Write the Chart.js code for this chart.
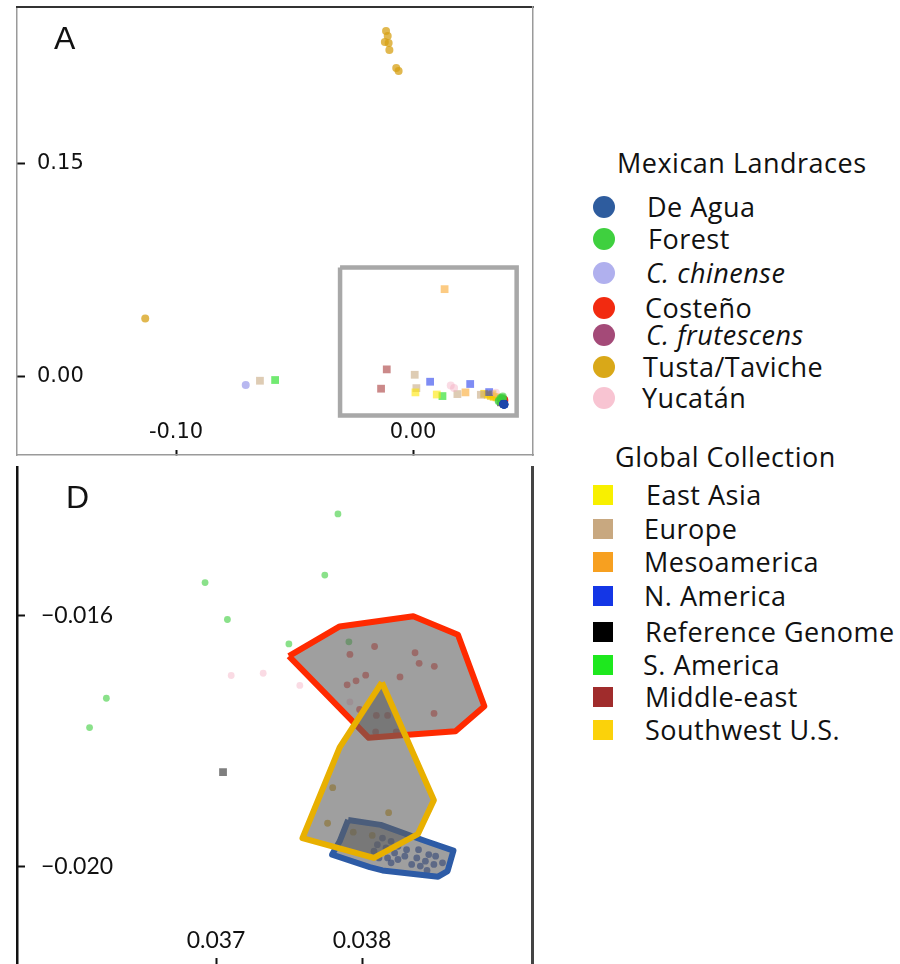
<!DOCTYPE html>
<html><head><meta charset="utf-8">
<script src="https://cdn.jsdelivr.net/npm/chart.js@4.4.1/dist/chart.umd.min.js"></script>
<style>
html,body{margin:0;padding:0;background:#fff;overflow:hidden;width:900px;height:964px;position:relative;}
#wrapA{position:absolute;left:0;top:0;width:560px;height:462px;}
#wrapD{position:absolute;left:0;top:462px;width:560px;height:510px;}
.panel{position:absolute;font-family:"Liberation Sans",Arial,sans-serif;font-size:32px;color:#111;line-height:40px;height:40px;}
.lt{position:absolute;font-family:"Open Sans",sans-serif;font-size:27px;letter-spacing:0.5px;color:#111;line-height:40px;height:40px;white-space:nowrap;}
.mk{position:absolute;}
</style></head>
<body>
<div id="wrapA"><canvas id="chartA"></canvas></div>
<div id="wrapD"><canvas id="chartD"></canvas></div>
<div class="panel" style="left:54px;top:18px;">A</div>
<div class="panel" style="left:66px;top:477px;">D</div>
<div id="legend"></div>
<script>
// ---------------- DATA ----------------
// Mexican landraces (circles)
const deAgua = [[0.038140,-0.019553],[0.038199,-0.019605],[0.038105,-0.019658],[0.038164,-0.019711],[0.038246,-0.019684],[0.038082,-0.019763],[0.038223,-0.019790],[0.038305,-0.019737],[0.038387,-0.019737],[0.038457,-0.019816],[0.038375,-0.019869],[0.038434,-0.019921],[0.038504,-0.019842],[0.038340,-0.019974],[0.038246,-0.019895],[0.038175,-0.019869],[0.038399,-0.020000],[0.038445,-0.020069],[0.038551,-0.019948],[0.038116,-0.019869],[0.038293,-0.019842],[0.038492,-0.019974],[0.038199,-0.019948]];
const forest = [[0.037835,-0.014378],[0.036925,-0.015473],[0.037745,-0.015353],[0.037078,-0.016063],[0.037499,-0.016452],[0.037910,-0.016420],[0.036249,-0.017320],[0.036134,-0.017789]];
const chinense = [[-0.0706,-0.0063]];
const costeno = [[0.037917,-0.016621],[0.038086,-0.016494],[0.038363,-0.016594],[0.038391,-0.016763],[0.038495,-0.016810],[0.037959,-0.017042],[0.038025,-0.016952],[0.037898,-0.017105],[0.038260,-0.016979],[0.037983,-0.017500],[0.038098,-0.017595],[0.038175,-0.017595],[0.038493,-0.017563],[0.038093,-0.017857],[0.038234,-0.017857]];
const frutescens = [];
const tusta = [[-0.0114,0.2430],[-0.0107,0.2394],[-0.0119,0.2352],[-0.0103,0.2345],[-0.0100,0.2296],[-0.0071,0.2169],[-0.0061,0.2148],[-0.1130,0.0406],[0.037799,-0.018748],[0.038182,-0.019147],[0.037764,-0.019316],[0.037940,-0.019458],[0.038070,-0.019510]];
const yucatan = [[0.037104,-0.016957],[0.037323,-0.016921],[0.037574,-0.017115],[0.037917,-0.017379],[0.0159,-0.0066],[0.0173,-0.0085],[0.0349,-0.0117]];
// Global collection (squares)
const eastAsia = [[0.0010,-0.0115],[0.0100,-0.0130]];
const europe = [[-0.0646,-0.0033],[0.0007,0.0009],[0.0014,-0.0085],[0.0187,-0.0127],[0.0286,-0.0132]];
const mesoamerica = [[0.0133,0.0612],[0.0221,-0.0115]];
const nAmerica = [[0.0072,-0.0040],[0.0241,-0.0056],[0.0321,-0.0113]];
const refGenome = [[0.037048,-0.018500]];
const sAmerica = [[-0.0582,-0.0028],[0.0124,-0.0141]];
const middleEast = [[-0.0111,0.0047],[-0.0135,-0.0089]];
const southwestUS = [[0.0300,-0.0125],[0.0315,-0.0132],[0.0328,-0.0140],[0.0340,-0.0146],[0.0352,-0.0150],[0.0335,-0.0128]];
// Hulls drawn in panel D and the zoom box of panel A
const costenoHull = [[0.037499,-0.016647],[0.037847,-0.016174],[0.038351,-0.016010],[0.038657,-0.016305],[0.038838,-0.017447],[0.038640,-0.017848],[0.038269,-0.017911],[0.038046,-0.017952],[0.037499,-0.016647]];
const tustaHull = [[0.038136,-0.017068],[0.038492,-0.018947],[0.038382,-0.019490],[0.038081,-0.019869],[0.037592,-0.019553],[0.037847,-0.018105],[0.038136,-0.017068]];
const deAguaHull = [[0.037905,-0.019263],[0.038128,-0.019342],[0.038429,-0.019595],[0.038626,-0.019753],[0.038586,-0.020079],[0.038521,-0.020169],[0.038140,-0.020069],[0.038053,-0.020016],[0.037795,-0.019816],[0.037847,-0.019605],[0.037905,-0.019263]];
const zoomBox = [[-0.0308,0.0764],[0.0437,0.0764],[0.0437,-0.0278],[-0.0308,-0.0278],[-0.0308,0.0764]];
// Tick labels
const aXTicks = [-0.10, 0.00];
const aYTicks = [0.00, 0.15];
const dXTicks = [0.037, 0.038];
const dYTicks = [-0.020, -0.016];
// Legend categories
const mexicanNames = ["De Agua","Forest","C. chinense","Costeño","C. frutescens","Tusta/Taviche","Yucatán"];
const globalNames = ["East Asia","Europe","Mesoamerica","N. America","Reference Genome","S. America","Middle-east","Southwest U.S."];

// ---------------- STYLE ----------------
const series = [
  {name:"De Agua", d:deAgua, fill:'rgba(30,70,170,0.72)', leg:'#2e5c9e', sq:false},
  {name:"Forest", d:forest, fill:'rgba(60,205,60,0.6)', leg:'#3fd03f', sq:false},
  {name:"C. chinense", d:chinense, fill:'rgba(160,160,235,0.75)', leg:'#b0b0ee', sq:false},
  {name:"Costeño", d:costeno, fill:'rgba(235,40,30,0.6)', leg:'#f22a10', sq:false},
  {name:"C. frutescens", d:frutescens, fill:'rgba(160,70,120,0.6)', leg:'#a44a78', sq:false},
  {name:"Tusta/Taviche", d:tusta, fill:'rgba(215,160,20,0.75)', leg:'#d9a818', sq:false},
  {name:"Yucatán", d:yucatan, fill:'rgba(245,175,195,0.45)', leg:'#f8c4d2', sq:false},
  {name:"East Asia", d:eastAsia, fill:'rgba(255,230,0,0.6)', leg:'#f8f000', sq:true},
  {name:"Europe", d:europe, fill:'rgba(200,170,130,0.6)', leg:'#c8a880', sq:true},
  {name:"Mesoamerica", d:mesoamerica, fill:'rgba(250,160,30,0.55)', leg:'#f7a020', sq:true},
  {name:"N. America", d:nAmerica, fill:'rgba(20,45,235,0.55)', leg:'#1436e6', sq:true},
  {name:"Reference Genome", d:refGenome, fill:'rgba(0,0,0,0.5)', leg:'#000000', sq:true},
  {name:"S. America", d:sAmerica, fill:'rgba(20,220,20,0.6)', leg:'#1ee81e', sq:true},
  {name:"Middle-east", d:middleEast, fill:'rgba(160,40,40,0.55)', leg:'#a02c2c', sq:true},
  {name:"Southwest U.S.", d:southwestUS, fill:'rgba(245,200,0,0.7)', leg:'#fbd20a', sq:true}
];
const toXY = a => a.map(p => ({x:p[0], y:p[1]}));
function pointSets(circR, sqR){
  return series.map(s => ({
    label:s.name, data:toXY(s.d), order:10,
    pointStyle: s.sq ? 'rect' : 'circle',
    pointRadius: s.sq ? sqR : circR,
    backgroundColor:s.fill, borderWidth:0, pointBorderWidth:0
  }));
}
function hull(label, d, color, order){
  return {label, data:toXY(d), showLine:true, fill:'shape', tension:0,
    backgroundColor:'rgba(95,95,95,0.6)', borderColor:color, borderWidth:6,
    borderJoinStyle:'round', pointRadius:0, order};
}
const fmt2 = v => (Math.abs(v) < 1e-9 ? 0 : v).toFixed(2);
const fmt3 = v => (Math.abs(v) < 1e-9 ? 0 : v).toFixed(3).replace('-', '\u2212');
function zeroFit(s, horiz){
  if (horiz) s.height = 0; else s.width = 0;
  s.paddingTop = 0; s.paddingBottom = 0; s.paddingLeft = 0; s.paddingRight = 0;
}
function frameAxis(pos, color, width, show){
  const horiz = (pos==='top'||pos==='bottom');
  return {type:'linear', position:pos, display:show,
    afterFit: s => zeroFit(s, horiz),
    border:{display:true, color, width},
    grid:{display:true, drawOnChartArea:false, drawTicks:false},
    ticks:{display:false}};
}
function mainAxis(pos, min, max, tickVals, fmt, font, tl, pad, borderColor, borderWidth){
  const horiz = (pos==='bottom');
  return {type:'linear', position:pos, min, max,
    afterBuildTicks: s => { s.ticks = tickVals.map(v => ({value:v})); },
    afterFit: s => zeroFit(s, horiz),
    border:{display:true, color:borderColor, width:borderWidth},
    grid:{display:true, drawOnChartArea:false, drawTicks:true, tickLength:tl, tickWidth:2, tickColor:'#111'},
    ticks:{mirror:true, padding:pad, color:'#111', font, callback:fmt, autoSkip:false, maxRotation:0, includeBounds:false}};
}
Chart.defaults.animation = false;
Chart.defaults.plugins.legend.display = false;
Chart.defaults.plugins.tooltip.enabled = false;

const fontA = {family:'"DejaVu Sans"', size:21};
const fontD = {family:'Lato', size:23};

new Chart(document.getElementById('chartA'), {
  type:'scatter',
  data:{datasets:[
    {label:'zoom', data:toXY(zoomBox), showLine:true, fill:false, borderColor:'#a8a8a8', borderWidth:4.5, pointRadius:0, order:0, borderJoinStyle:'miter'},
    ...pointSets(4, 5.5)
  ]},
  options:{responsive:true, maintainAspectRatio:false,
    layout:{padding:{left:17, top:7, right:27, bottom:7}},
    scales:{
      x: mainAxis('bottom', -0.1671, 0.0506, aXTicks, fmt2, fontA, -5, 9.4, '#9a9a9a', 1.5),
      y: mainAxis('left', -0.0556, 0.2599, aYTicks, fmt2, fontA, -8, 20, '#9a9a9a', 1.5),
      xTop: frameAxis('top', '#333', 2, true),
      yRight: frameAxis('right', '#9a9a9a', 1.5, true)
    }}
});

new Chart(document.getElementById('chartD'), {
  type:'scatter',
  data:{datasets:[
    hull('Tusta hull', tustaHull, '#e8b000', 1),
    hull('De Agua hull', deAguaHull, '#2d5ba6', 2),
    hull('Costeño hull', costenoHull, '#ff2a00', 3),
    ...pointSets(3.4, 5.5)
  ]},
  options:{responsive:true, maintainAspectRatio:false,
    layout:{padding:{left:17, top:0, right:28, bottom:6}},
    scales:{
      x: mainAxis('bottom', 0.035637, 0.039164, dXTicks, fmt3, fontD, -8, 11.2, '#111', 2),
      y: mainAxis('left', -0.021595, -0.013636, dYTicks, fmt3, fontD, -8, 24, '#111', 2.5),
      yRight: frameAxis('right', '#444', 3, true)
    }}
});

// ---------------- LEGEND (HTML) ----------------
const legend = document.getElementById('legend');
function addText(txt, left, cy, italic){
  const el = document.createElement('div');
  el.className = 'lt';
  el.style.left = left + 'px';
  el.style.top = (cy - 20) + 'px';
  if (italic) el.style.fontStyle = 'italic';
  el.textContent = txt;
  legend.appendChild(el);
}
function addMark(color, cx, cy, size, round){
  const el = document.createElement('div');
  el.className = 'mk';
  el.style.left = (cx - size/2) + 'px';
  el.style.top = (cy - size/2) + 'px';
  el.style.width = size + 'px';
  el.style.height = size + 'px';
  el.style.background = color;
  if (round) el.style.borderRadius = '50%';
  legend.appendChild(el);
}
addText('Mexican Landraces', 617, 163, false);
const mexY = [207,239,273,308,335,367,398];
const mexX = [647,648,646,645,646,643,642];
mexicanNames.forEach((n,i) => {
  const s = series.find(q => q.name === n);
  addMark(s.leg, 604, mexY[i], 22, true);
  addText(n, mexX[i], mexY[i], n.startsWith('C. '));
});
addText('Global Collection', 615, 457, false);
const gY = [495,529,562,596,632,665,697,730];
const gX = [646,644,644,644,645,643,645,645];
globalNames.forEach((n,i) => {
  const s = series.find(q => q.name === n);
  addMark(s.leg, 603, gY[i], 20, false);
  addText(n, gX[i], gY[i], false);
});
</script>
</body></html>
